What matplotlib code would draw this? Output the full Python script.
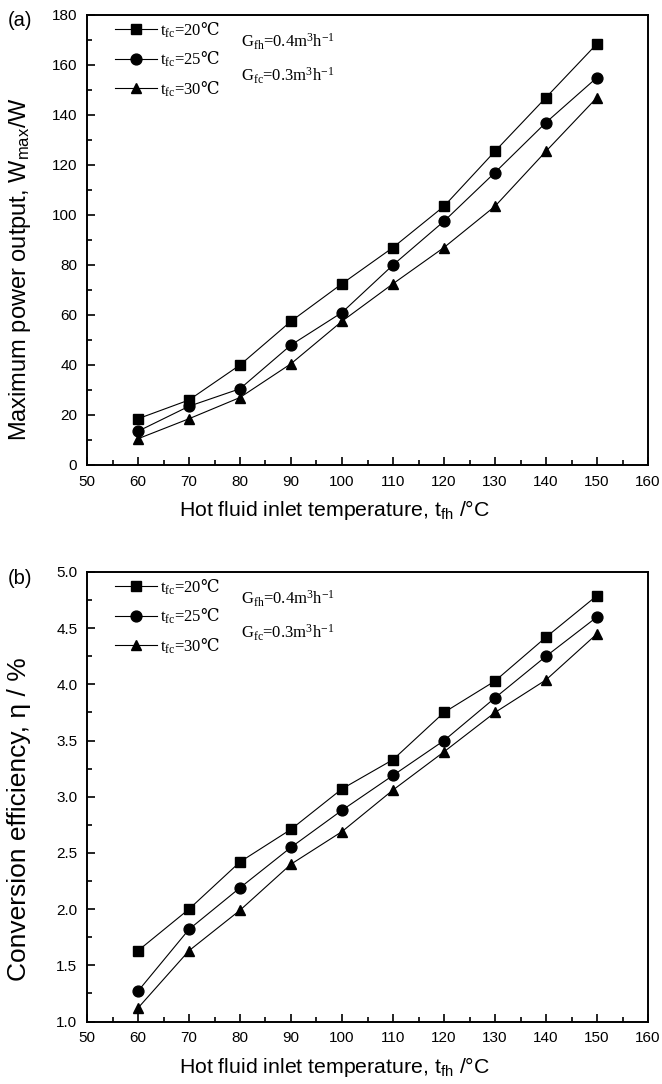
import matplotlib
matplotlib.use("Agg")
import matplotlib.pyplot as plt
from matplotlib.ticker import MultipleLocator, FormatStrFormatter

temps = [60, 70, 80, 90, 100, 110, 120, 130, 140, 150]
series_labels = ["20", "25", "30"]
power_20 = [18.5, 26, 40, 57.5, 72.5, 87, 103.5, 125.5, 147, 168.5]
power_25 = [13.5, 23.5, 30.5, 48, 61, 80, 97.5, 117, 137, 155]
power_30 = [10.5, 18.5, 27, 40.5, 57.5, 72.5, 87, 103.5, 125.5, 147]
eff_20 = [1.63, 2.00, 2.42, 2.71, 3.07, 3.33, 3.75, 4.03, 4.42, 4.79]
eff_25 = [1.27, 1.82, 2.19, 2.55, 2.88, 3.19, 3.50, 3.88, 4.25, 4.60]
eff_30 = [1.12, 1.63, 1.99, 2.40, 2.69, 3.06, 3.40, 3.75, 4.04, 4.45]
markers = ["s", "o", "^"]

sans = ["Liberation Sans", "DejaVu Sans"]
serif = ["Liberation Serif", "DejaVu Serif", "DejaVu Sans"]
plt.rcParams["font.family"] = sans
plt.rcParams["mathtext.fontset"] = "dejavuserif"

fig = plt.figure(figsize=(6.62, 10.84), dpi=100)
L, R = 87 / 662, 648 / 662
axA = fig.add_axes([L, 1 - 465 / 1084, R - L, (465 - 15) / 1084])
axB = fig.add_axes([L, 1 - 1021.5 / 1084, R - L, (1021.5 - 572) / 1084])


def style(ax, ymin, ymax, ymaj, ymin_step):
    ax.set_xlim(50, 160)
    ax.set_ylim(ymin, ymax)
    ax.xaxis.set_major_locator(MultipleLocator(10))
    ax.xaxis.set_minor_locator(MultipleLocator(5))
    ax.yaxis.set_major_locator(MultipleLocator(ymaj))
    ax.yaxis.set_minor_locator(MultipleLocator(ymin_step))
    ax.tick_params(which="both", direction="in", top=False, right=False,
                   labelsize=11, width=1.2)
    ax.tick_params(which="major", length=6, pad=7)
    ax.tick_params(which="minor", length=3.5)
    for s in ax.spines.values():
        s.set_linewidth(1.4)
    ax.set_xlabel(r"Hot fluid inlet temperature, $\mathregular{t_{fh}}$ /°C",
                  fontsize=15.3)
    ax.xaxis.set_label_coords(0.442, -0.074)


for ax, data in ((axA, (power_20, power_25, power_30)),
                 (axB, (eff_20, eff_25, eff_30))):
    for lab, vals, m in zip(series_labels, data, markers):
        ax.plot(temps, vals, color="black", lw=0.8, marker=m,
                markersize=7.8 if m != "s" else 6.7, markerfacecolor="black",
                markeredgecolor="black",
                label=r"$\mathregular{t_{fc}}$=" + lab + r"$\mathrm{℃}$")
    ax.legend(loc="upper left", frameon=False, prop={"family": serif, "size": 12},
              handlelength=2.5, handletextpad=0.2, labelspacing=0.6,
              borderaxespad=0.0, bbox_to_anchor=(0.038, 1.003))
    ax.text(0.275, 0.94, r"$\mathregular{G_{fh}}$=0.4m$\mathregular{^3}$h$\mathregular{^{-1}}$",
            transform=ax.transAxes, family=serif, fontsize=12, va="center", ha="left")
    ax.text(0.275, 0.865, r"$\mathregular{G_{fc}}$=0.3m$\mathregular{^3}$h$\mathregular{^{-1}}$",
            transform=ax.transAxes, family=serif, fontsize=12, va="center", ha="left")

style(axA, 0, 180, 20, 10)
style(axB, 1.0, 5.0, 0.5, 0.25)
axB.yaxis.set_major_formatter(FormatStrFormatter("%.1f"))
axA.set_ylabel(r"Maximum power output, $\mathregular{W_{max}}$/W", fontsize=17)
axB.set_ylabel("Conversion efficiency, η / %", fontsize=19)
axA.yaxis.set_label_coords(-0.096, 0.435)
axB.yaxis.set_label_coords(-0.099, 0.45)

fig.text(8 / 662, 1 - 20 / 1084, "(a)", fontsize=14.5, va="center", ha="left")
fig.text(8 / 662, 1 - 578 / 1084, "(b)", fontsize=14.5, va="center", ha="left")

fig.savefig("out.png", dpi=100)
